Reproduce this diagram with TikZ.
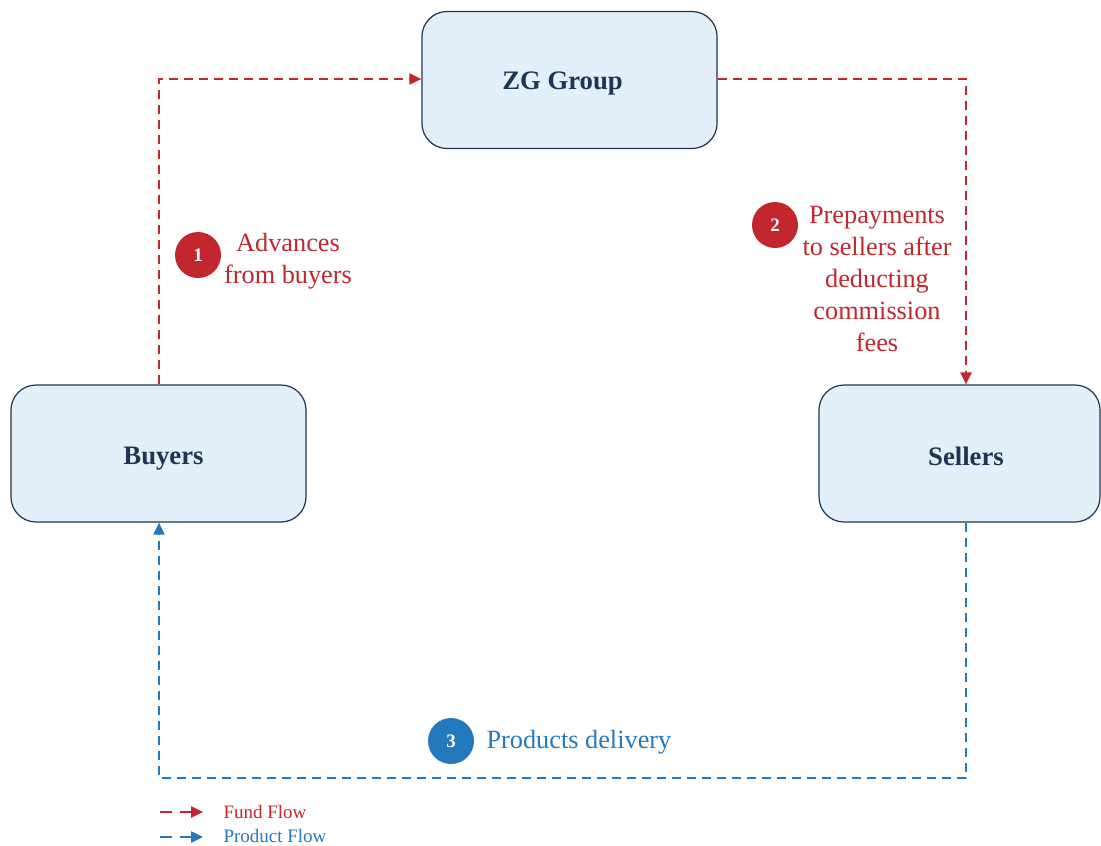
\documentclass[tikz,border=0pt]{standalone}
\usepackage{fontspec}
\setmainfont{Liberation Serif}
\usetikzlibrary{arrows.meta}
\definecolor{fund}{HTML}{C1272D}
\definecolor{prod}{HTML}{2479BD}
\definecolor{boxfill}{HTML}{E3F0F9}
\definecolor{boxline}{HTML}{1F3553}
\begin{document}
\begin{tikzpicture}[x=1pt,y=-1pt,
  entity/.style={draw=boxline,line width=1.2pt,fill=boxfill,rounded corners=25pt,minimum width=295pt,minimum height=137pt},
  etext/.style={font=\fontsize{26.7}{30}\selectfont\bfseries,text=boxline,text height=0.66em,text depth=0pt},
  fundline/.style={draw=fund,line width=2pt,dash pattern=on 9pt off 6pt,-{Triangle[length=12pt,width=11pt]}},
  prodline/.style={draw=prod,line width=2pt,dash pattern=on 9pt off 6pt,-{Triangle[length=12pt,width=11pt]}},
  badge/.style={circle,minimum size=46pt,inner sep=0pt,text=white,font=\fontsize{19}{20}\selectfont\bfseries},
  lbl/.style={align=center,font=\fontsize{26.3}{32}\selectfont}
]
\useasboundingbox (0,0) rectangle (1101,846);
\node[entity,label={[etext,xshift=-7pt,yshift=-6pt]center:ZG Group}] (zg) at (569.5,80) {};
\node[entity,label={[etext,xshift=5pt,yshift=-8pt]center:Buyers}] (buy) at (158.5,453.5) {};
\node[entity,minimum width=281pt,label={[etext,xshift=6.5pt,yshift=-9pt]center:Sellers}] (sell) at (959.5,453.5) {};
\coordinate (c1) at (159,79);
\coordinate (c2) at (966,79);
\coordinate (c3) at (966,778);
\coordinate (c4) at (159,778);
\draw[fundline] (buy.north -| c1) -- (c1) -- (c1 -| zg.west);
\draw[fundline] (zg.east |- c2) -- (c2) -- (c2 |- sell.north);
\draw[prodline] (c3 |- sell.south) -- (c3) -- (c4) -- (c4 |- buy.south);
\node[badge,fill=fund] (b1) at (198,255) {1};
\node[lbl,text=fund] (l1) at (288,261) {Advances\\from buyers};
\node[badge,fill=fund] (b2) at (775,225) {2};
\node[lbl,text=fund] (l2) at (877,279) {Prepayments\\to sellers after\\deducting\\commission\\fees};
\node[badge,fill=prod] (b3) at (451,741) {3};
\node[lbl,text=prod,anchor=west] (l3) at (483,742) {Products delivery};
\coordinate (f1) at (160,812);
\coordinate (f2) at (203,812);
\coordinate (p1) at (160,837);
\coordinate (p2) at (203,837);
\draw[fundline,line width=2.5pt,dash pattern=on 12pt off 8pt] (f1) -- (f2);
\draw[prodline,line width=2.5pt,dash pattern=on 12pt off 8pt] (p1) -- (p2);
\node[anchor=west,text=fund,font=\fontsize{19}{22}\selectfont] (lf) at (220,812) {Fund Flow};
\node[anchor=west,text=prod,font=\fontsize{19}{22}\selectfont] (lp) at (220,836) {Product Flow};
\end{tikzpicture}
\end{document}
